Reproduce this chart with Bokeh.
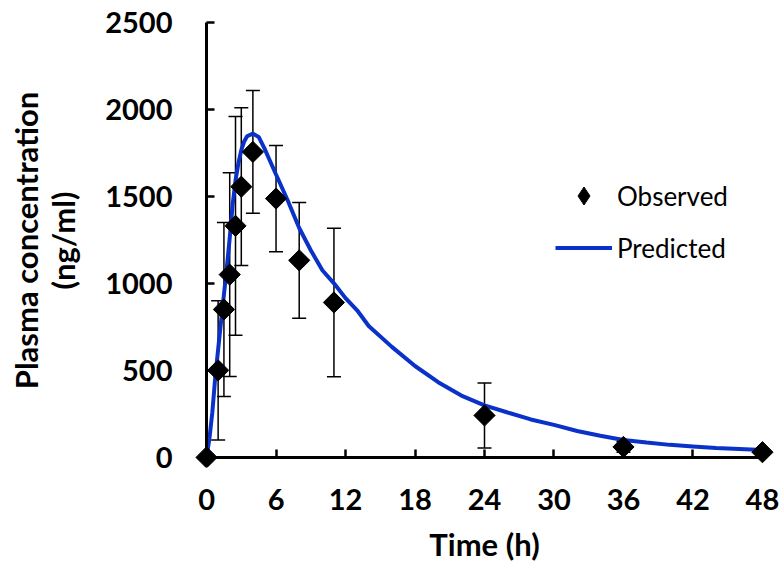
import numpy as np
from bokeh.plotting import figure
from bokeh.models import (ColumnDataSource, Whisker, FixedTicker, Legend,
                          LegendItem, TeeHead, LinearAxis)
from bokeh.embed import file_html
from bokeh.resources import INLINE

# ---- data ----
time_obs = [0, 1, 1.5, 2, 2.5, 3, 4, 6, 8, 11, 24, 36, 48]
conc_obs = [0, 500, 850, 1050, 1330, 1555, 1755, 1487, 1132, 890, 241, 60, 30]
conc_sd = [0, 400, 500, 585, 628, 453, 352, 305, 333, 427, 187, 30, 15]

time_pred = [0, 0.25, 0.5, 0.75, 1, 1.25, 1.5, 1.75, 2, 2.25, 2.5, 2.75, 3,
             3.25, 3.5, 4, 4.5, 5, 5.5, 6, 7, 8, 9, 10, 11, 12, 13, 14, 16,
             18, 20, 22, 24, 26, 28, 30, 32, 34, 36, 38, 40, 42, 44, 46, 48]
conc_pred = [0, 110, 260, 460, 620, 780, 935, 1090, 1260, 1450, 1590, 1690,
             1765, 1815, 1845, 1860, 1841, 1775, 1700, 1625, 1477, 1318, 1190,
             1075, 1000, 915, 845, 755, 635, 525, 432, 355, 299, 258, 218, 187,
             152, 124, 100, 85, 72, 63, 54, 48, 42]

x_ticks = [0, 6, 12, 18, 24, 30, 36, 42, 48]
y_ticks = [0, 500, 1000, 1500, 2000, 2500]

x_title = "Time (h)"
y_title = "Plasma concentration\n(ng/ml)"
series_names = ["Observed", "Predicted"]

BLUE = "#0A32C8"
FONT = "Lato"

# ---- figure ----
p = figure(width=784, height=569, x_range=(-1.3, 49.3), y_range=(-58, 2550),
           output_backend="svg", toolbar_location=None,
           min_border_left=191, min_border_right=7,
           min_border_top=13, min_border_bottom=102)
p.outline_line_color = None
p.grid.visible = False
p.background_fill_color = "white"
p.border_fill_color = "white"

# label/title axes at the frame edges
for ax in [p.xaxis[0], p.yaxis[0]]:
    ax.axis_line_color = None
    ax.major_tick_line_color = None
    ax.minor_tick_line_color = None
    ax.major_tick_in = 0
    ax.major_tick_out = 0
    ax.major_label_text_font = FONT
    ax.major_label_text_font_style = "bold"
    ax.major_label_text_font_size = "29px"
    ax.major_label_text_color = "black"
    ax.axis_label_text_font = FONT
    ax.axis_label_text_font_style = "bold"
    ax.axis_label_text_font_size = "31px"
    ax.axis_label_text_color = "black"

p.xaxis.ticker = FixedTicker(ticks=x_ticks)
p.yaxis.ticker = FixedTicker(ticks=y_ticks)
p.xaxis.major_label_standoff = 21
p.yaxis.major_label_standoff = 19
p.xaxis.axis_label = x_title
p.xaxis.axis_label_standoff = 12
p.yaxis.axis_label = y_title
p.yaxis.axis_label_standoff = 20
p.yaxis.axis_label_text_line_height = 0.97

# axis lines + inward ticks placed at data zero (no labels drawn)
def line_axis(ticks):
    ax = LinearAxis(ticker=FixedTicker(ticks=ticks), fixed_location=0,
                    bounds=(ticks[0], ticks[-1]))
    ax.axis_line_width = 3
    ax.axis_line_color = "black"
    ax.major_tick_line_width = 2.5
    ax.major_tick_line_color = "black"
    ax.major_tick_in = 8
    ax.major_tick_out = 0
    ax.minor_tick_line_color = None
    ax.major_label_text_color = None
    ax.major_label_text_font_size = "0px"
    ax.major_label_standoff = 0
    return ax

p.add_layout(line_axis(x_ticks), "below")
p.add_layout(line_axis(y_ticks), "left")

# ---- error bars ----
src = ColumnDataSource(dict(
    t=time_obs, c=conc_obs,
    upper=[c + s for c, s in zip(conc_obs, conc_sd)],
    lower=[c - s for c, s in zip(conc_obs, conc_sd)],
))
whisk = Whisker(base="t", upper="upper", lower="lower", source=src,
                line_color="black", line_width=1.5,
                upper_head=TeeHead(size=14, line_color="black", line_width=1.5),
                lower_head=TeeHead(size=14, line_color="black", line_width=1.5))
p.add_layout(whisk)

# ---- predicted curve & observed points ----
ln = p.line(time_pred, conc_pred, line_color=BLUE, line_width=4)
# diamond-shaped symbol used by the legend (sits under the visible markers)
sym = p.scatter("t", "c", source=src, marker="diamond", size=12,
                fill_color="black", line_color="black")
sc = p.scatter("t", "c", source=src, marker="square", size=15,
               angle=np.pi / 4, fill_color="black", line_color="black")

# ---- legend ----
legend = Legend(items=[LegendItem(label=series_names[0], renderers=[sym]),
                       LegendItem(label=series_names[1], renderers=[ln])],
                location=(364, 197), glyph_width=57, glyph_height=45,
                label_height=45, spacing=7, padding=0, margin=0,
                label_standoff=5, label_text_font=FONT,
                label_text_font_size="26px", label_text_color="black",
                border_line_color=None, background_fill_alpha=0)
p.add_layout(legend)

open("out.html", "w").write(file_html(p, INLINE))
